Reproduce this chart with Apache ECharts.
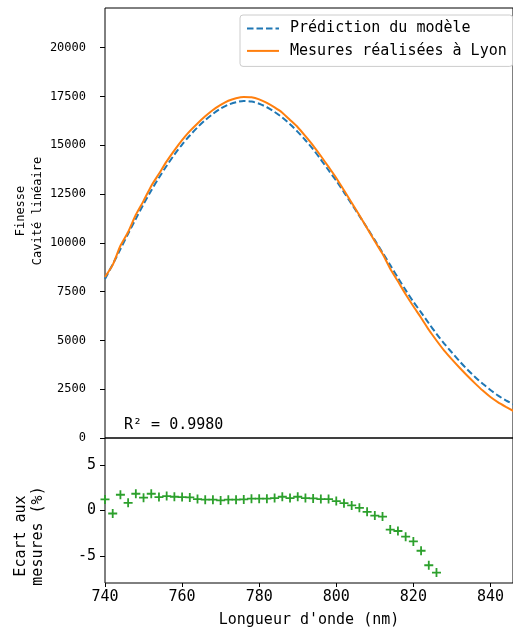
<!DOCTYPE html>
<html>
<head>
<meta charset="utf-8">
<script src="https://cdn.jsdelivr.net/npm/echarts@6/dist/echarts.min.js"></script>
<style>
  html, body { margin: 0; padding: 0; background: #fff; }
  #chart { width: 513px; height: 630px; }
</style>
</head>
<body>
<div id="chart"></div>
<script>
// ---------- data ----------
const wavelengths = [740, 742, 744, 746, 748, 750, 752, 754, 756, 758, 760, 762, 764, 766, 768, 770, 772, 774, 776, 778,
  780, 782, 784, 786, 788, 790, 792, 794, 796, 798, 800, 802, 804, 806, 808, 810, 812, 814, 816, 818,
  820, 822, 824, 826, 828, 830, 832, 834, 836, 838, 840, 842, 844, 846];
const modelFinesse = [8150, 8900, 9680, 10470, 11230, 11980, 12680, 13340, 13950, 14520, 15040, 15500, 15920, 16290, 16610, 16880, 17080, 17210, 17270, 17240,
  17130, 16950, 16710, 16420, 16080, 15690, 15260, 14790, 14270, 13720, 13190, 12590, 11990, 11380, 10770, 10140, 9500, 8860, 8210, 7580,
  6980, 6440, 5880, 5340, 4840, 4380, 3930, 3510, 3130, 2780, 2460, 2170, 1930, 1720];
const measuredFinesse = [8251, 8870, 9851, 10560, 11441, 12151, 12918, 13540, 14176, 14741, 15264, 15723, 16120, 16484, 16808, 17067, 17283, 17415, 17481, 17464,
  17353, 17170, 16939, 16670, 16300, 15928, 15469, 14987, 14450, 13893, 13327, 12692, 12057, 11414, 10754, 10083, 9437, 8677, 8029, 7367,
  6750, 6166, 5545, 4998, 4480, 4030, 3600, 3190, 2800, 2430, 2100, 1830, 1600, 1380];
const residualWavelengths = [740, 742, 744, 746, 748, 750, 752, 754, 756, 758, 760, 762, 764, 766, 768, 770, 772, 774, 776, 778,
  780, 782, 784, 786, 788, 790, 792, 794, 796, 798, 800, 802, 804, 806, 808, 810, 812, 814, 816, 818,
  820, 822, 824, 826];
const residuals = [1.22, -0.33, 1.74, 0.85, 1.85, 1.41, 1.85, 1.48, 1.59, 1.52, 1.48, 1.44, 1.26, 1.19, 1.19, 1.11, 1.19, 1.19, 1.22, 1.30,
  1.30, 1.30, 1.37, 1.52, 1.37, 1.52, 1.37, 1.33, 1.26, 1.26, 1.04, 0.81, 0.56, 0.30, -0.15, -0.56, -0.67, -2.11, -2.26, -2.89,
  -3.41, -4.44, -6.04, -6.85];
const xTicks = [740, 760, 780, 800, 820, 840];
const topYTicks = [0, 2500, 5000, 7500, 10000, 12500, 15000, 17500, 20000];
const bottomYTicks = [-5, 0, 5];
const seriesNames = ['Prédiction du modèle', 'Mesures réalisées à Lyon'];
const r2Text = 'R² = 0.9980';
const topYLabel = 'Finesse\nCavité linéaire';
const bottomYLabel = 'Ecart aux\nmesures (%)';
const xLabel = "Longueur d'onde (nm)";

// ---------- chart ----------
const FONT = 'DejaVu Sans Mono';
const chart = echarts.init(document.getElementById('chart'), null, { renderer: 'canvas' });

const pair = (xs, ys) => xs.map((x, i) => [x, ys[i]]);
const plain = v => String(v);
const plusPath = 'path://M3.6,0h1.8v3.6h3.6v1.8h-3.6v3.6h-1.8v-3.6h-3.6v-1.8h3.6z';
const X_MAX = 845.85;

const option = {
  animation: false,
  backgroundColor: '#fff',
  grid: [
    { left: 105, right: -1, top: 8, height: 430, show: true, borderColor: '#000', borderWidth: 1, containLabel: false },
    { left: 105, right: -1, top: 438, height: 145, show: true, borderColor: '#000', borderWidth: 1, containLabel: false }
  ],
  xAxis: [
    { type: 'value', gridIndex: 0, min: 740, max: X_MAX, axisLine: { show: false, onZero: false }, axisTick: { show: false },
      axisLabel: { show: false }, splitLine: { show: false } },
    { type: 'value', gridIndex: 1, min: 740, max: X_MAX, position: 'bottom',
      axisLine: { show: false, onZero: false },
      axisTick: { show: true, inside: false, length: 4, lineStyle: { color: '#000', width: 1 }, customValues: xTicks },
      axisLabel: { show: true, customValues: xTicks, formatter: plain, fontFamily: FONT, fontSize: 15, color: '#000', margin: 7 },
      splitLine: { show: false },
      name: xLabel, nameLocation: 'middle', nameGap: 30,
      nameTextStyle: { fontFamily: FONT, fontSize: 15, color: '#000' } }
  ],
  yAxis: [
    { type: 'value', gridIndex: 0, min: 0, max: 22036, position: 'left',
      axisLine: { show: false, onZero: false },
      axisTick: { show: true, inside: false, length: 5, lineStyle: { color: '#000', width: 1 }, customValues: topYTicks },
      axisLabel: { show: true, customValues: topYTicks, formatter: plain, fontFamily: FONT, fontSize: 12, color: '#000', margin: 19 },
      splitLine: { show: false } },
    { type: 'value', gridIndex: 1, min: -8, max: 8, position: 'left',
      axisLine: { show: false, onZero: false },
      axisTick: { show: true, inside: false, length: 5, lineStyle: { color: '#000', width: 1 }, customValues: bottomYTicks },
      axisLabel: { show: true, customValues: bottomYTicks, formatter: plain, fontFamily: FONT, fontSize: 15, color: '#000', margin: 9 },
      splitLine: { show: false } }
  ],
  legend: {
    show: true,
    orient: 'vertical',
    left: 240, top: 15,
    padding: [6, 6, 8, 6],
    itemWidth: 32, itemHeight: 16, itemGap: 7.4,
    backgroundColor: 'rgba(255,255,255,0.8)',
    borderColor: '#cccccc', borderWidth: 1, borderRadius: 3,
    itemStyle: { opacity: 0, borderWidth: 0 },
    lineStyle: { width: 2 },
    textStyle: { fontFamily: FONT, fontSize: 15, color: '#000', padding: [0, 0, 0, 6] },
    data: seriesNames.map(n => ({ name: n }))
  },
  graphic: [
    { type: 'text', left: 124, top: 418, style: { text: r2Text, font: '15px "' + FONT + '"', fill: '#000' }, z: 10 },
    { type: 'text', x: 29, y: 211, rotation: Math.PI / 2,
      style: { text: topYLabel, font: '12px "' + FONT + '"', fill: '#000', align: 'center', verticalAlign: 'middle', lineHeight: 17 } },
    { type: 'text', x: 30, y: 536, rotation: Math.PI / 2,
      style: { text: bottomYLabel, font: '15px "' + FONT + '"', fill: '#000', align: 'center', verticalAlign: 'middle', lineHeight: 17 } }
  ],
  series: [
    { name: seriesNames[0], type: 'line', xAxisIndex: 0, yAxisIndex: 0, data: pair(wavelengths, modelFinesse),
      symbol: 'none', smooth: 0.3, clip: true,
      lineStyle: { color: '#1f77b4', width: 2, type: [6.5, 3] }, itemStyle: { color: '#1f77b4' } },
    { name: seriesNames[1], type: 'line', xAxisIndex: 0, yAxisIndex: 0, data: pair(wavelengths, measuredFinesse),
      symbol: 'none', smooth: 0.2, clip: true,
      lineStyle: { color: '#ff7f0e', width: 2 }, itemStyle: { color: '#ff7f0e' } },
    { name: 'Ecart', type: 'scatter', xAxisIndex: 1, yAxisIndex: 1, data: pair(residualWavelengths, residuals),
      symbol: plusPath, symbolSize: 9, itemStyle: { color: '#2ca02c', opacity: 1 }, clip: true }
  ]
};
chart.setOption(option);
</script>
</body>
</html>
